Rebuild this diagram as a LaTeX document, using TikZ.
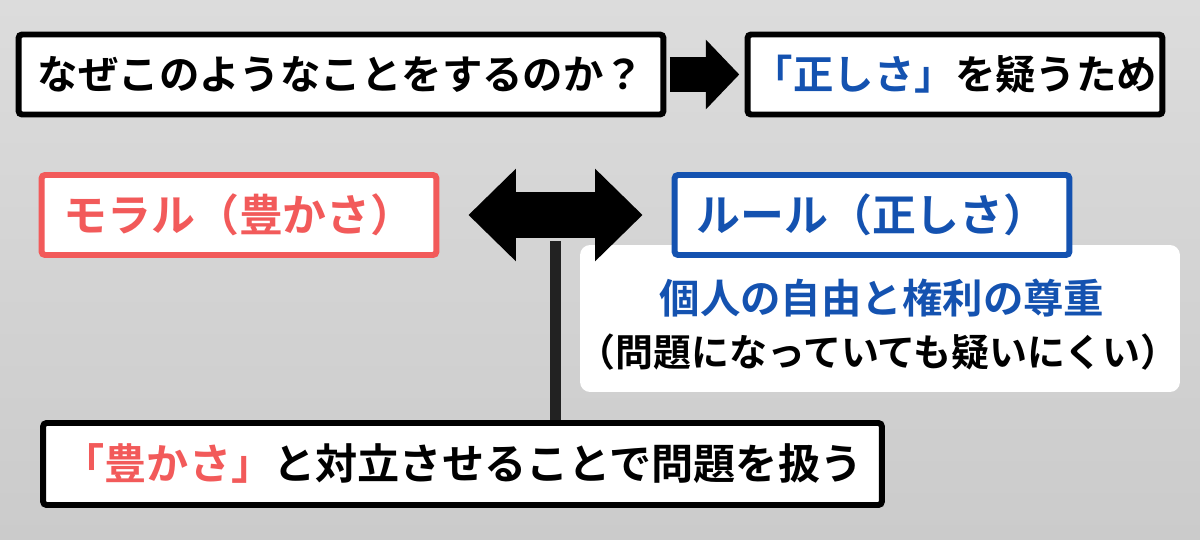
\documentclass[tikz,border=0pt]{standalone}
\usepackage{fontspec}
\newfontfamily\jp{Noto Sans CJK JP}[BoldFont={Noto Sans CJK JP Bold}]
\usepackage{tikz}
\usetikzlibrary{arrows.meta,positioning,calc}
\definecolor{morred}{HTML}{F25A5A}
\definecolor{ruleblue}{HTML}{1452B0}
\definecolor{bglight}{HTML}{DCDCDC}
\definecolor{bgdark}{HTML}{CBCBCB}
\definecolor{stem}{HTML}{222222}

\begin{document}
\begin{tikzpicture}[x=0.02cm,y=-0.02cm,
  box/.style={draw,fill=white,line width=3.4pt,rounded corners=2pt,minimum height=1.6cm,inner sep=0pt},
  big/.style={font=\jp\bfseries\fontsize{23}{28}\selectfont},
  huge/.style={font=\jp\bfseries\fontsize{25}{30}\selectfont},
  mid/.style={font=\jp\bfseries\fontsize{21.6}{26}\selectfont},
  fat/.style={line width=20pt,-{Triangle[length=19pt,width=38.5pt]}},
  twin/.style={line width=26.5pt,{Triangle[length=27pt,width=51pt]}-{Triangle[length=27pt,width=51pt]}}]
\shade[top color=bglight,bottom color=bgdark] (0,0) rectangle (1200,540);
% top row
\node (why) [box,big,minimum width=12.9cm] at (341,74.5) {なぜこのようなことをするのか？};
\node (aim) [box,big,minimum width=8.3cm] at (955,74.5) {\textcolor{ruleblue}{「正しさ」}を疑うため};
\draw[fat] ([xshift=2]why.east) -- ([xshift=-3]aim.west);
% middle row
\node (panel) [fill=white,rounded corners=0.2cm,minimum width=12cm,minimum height=2.94cm] at (880,318.5) {};
\node (moral) [box,huge,draw=morred,text=morred,minimum width=7.9cm,minimum height=1.6cm] at (239,215) {モラル（豊かさ）};
\node (rule) [box,huge,draw=ruleblue,text=ruleblue,minimum width=7.9cm,minimum height=1.6cm] at (872,215) {ルール（正しさ）};
\node (free) [big,text=ruleblue] at (882,298) {個人の自由と権利の尊重};
\node (hard) [mid] at (878,352) {（問題になっていても疑いにくい）};
% bottom row
\node (low) [box,font=\jp\bfseries\fontsize{24}{29}\selectfont,minimum width=16.78cm,minimum height=1.64cm] at (462.5,464) {\textcolor{morred}{「豊かさ」}と対立させることで問題を扱う};
\coordinate (centre) at ($(moral.east)!0.5!(rule.west)$);
\draw[stem,line width=6.8pt] ([yshift=-15]centre) -- (centre |- low.north);
\draw[twin,shorten <=0.58cm,shorten >=0.58cm] (moral.east) -- (rule.west);
\end{tikzpicture}
\end{document}
